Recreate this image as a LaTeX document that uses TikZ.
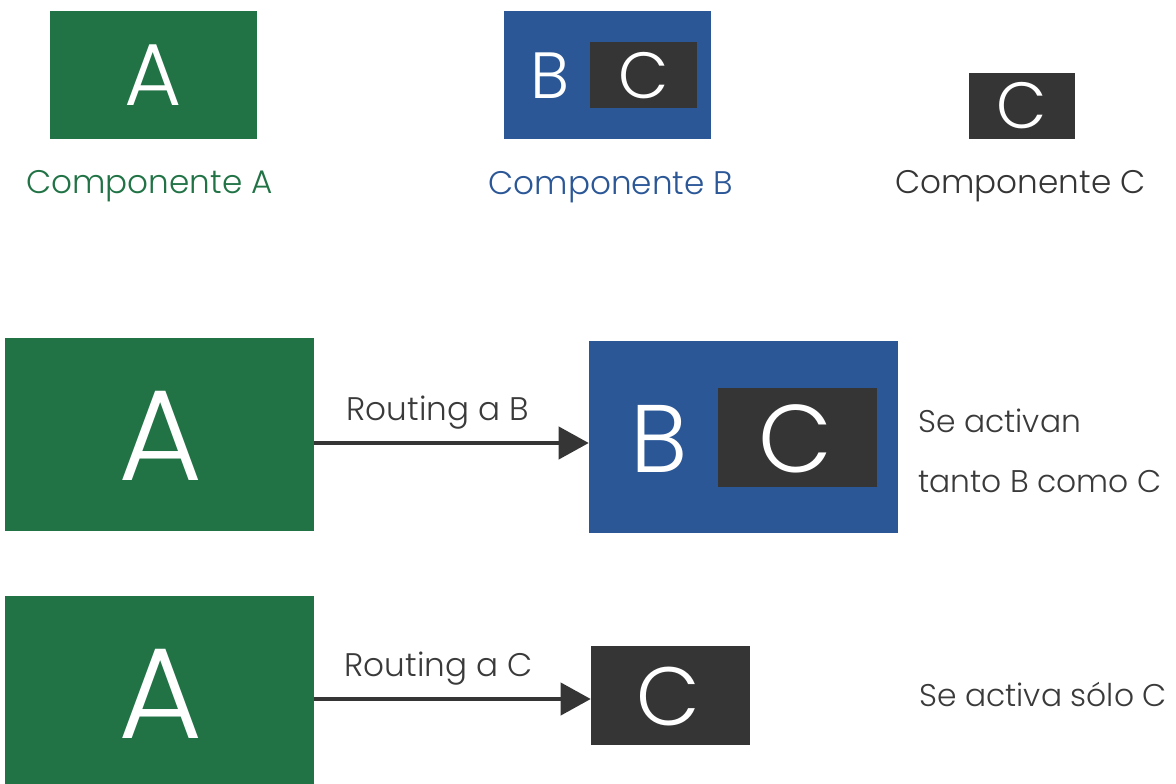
\documentclass[tikz,border=0pt]{standalone}
\usepackage{fontspec}
\IfFontExistsTF{Poppins Light}{\setmainfont{Poppins Light}}{\setmainfont{Poppins}}
\usetikzlibrary{arrows.meta}
\definecolor{cgreen}{HTML}{217346}
\definecolor{cblue}{HTML}{2B5797}
\definecolor{cdark}{HTML}{353535}
\definecolor{ctext}{HTML}{3A3A3A}
\tikzset{
  box/.style={rectangle, inner sep=0pt, draw=none},
  gbox/.style={box, fill=cgreen},
  bbox/.style={box, fill=cblue},
  dbox/.style={box, fill=cdark},
  letter/.style={anchor=base, inner sep=0pt, text=white},
  caption/.style={anchor=base, inner sep=0pt},
  note/.style={anchor=base west, inner sep=0pt, text=ctext, font=\fontsize{23.5}{28}\selectfont},
  arr/.style={draw=cdark, line width=3pt, -{Triangle[length=22.5pt,width=24pt]}},
}
\begin{document}
\begin{tikzpicture}[x=0.75pt, y=-0.75pt]
\useasboundingbox (0,0) rectangle (1176,784);

% legend row
\node[gbox, minimum width=155.25pt, minimum height=96pt] (ta) at (153.5,75) {};
\node[letter, font=\fontsize{66}{70}\selectfont] (tal) at (153.5,106) {A};
\node[caption, text=cgreen, font=\fontsize{24.5}{29}\selectfont] (tac) at (149.5,194) {Componente A};

\node[bbox, minimum width=155.25pt, minimum height=96pt] (tb) at (607.5,75) {};
\node[dbox, minimum width=80.25pt, minimum height=49.5pt] (tbc) at (643.5,75) {};
\node[letter, font=\fontsize{49}{54}\selectfont] (tbl) at (550,99) {B};
\node[letter, font=\fontsize{49}{54}\selectfont] (tbcl) at (643.5,99) {C};
\node[caption, text=cblue, font=\fontsize{24.5}{29}\selectfont] (tbcap) at (611,195) {Componente B};

\node[dbox, minimum width=79.5pt, minimum height=49.5pt] (tc) at (1022,106) {};
\node[letter, font=\fontsize{49}{54}\selectfont] (tcl) at (1022,129) {C};
\node[caption, text=cdark, font=\fontsize{24.5}{29}\selectfont] (tccap) at (1020.5,194) {Componente C};

% routing to B
\node[gbox, minimum width=231.75pt, minimum height=144.75pt] (ma) at (159.5,434.5) {};
\node[letter, font=\fontsize{97}{100}\selectfont] (mal) at (160.5,480) {A};
\node[bbox, minimum width=231.75pt, minimum height=144pt] (mb) at (743.5,437) {};
\node[dbox, minimum width=119.25pt, minimum height=74.25pt] (mbc) at (797.5,437.5) {};
\node[letter, font=\fontsize{72}{76}\selectfont] (mbl) at (659,472) {B};
\node[letter, font=\fontsize{72}{76}\selectfont] (mbcl) at (795,472) {C};
\draw[arr] ([yshift=-6.375pt]ma.east) -- ([yshift=-4.5pt]mb.west)
  node[caption, pos=0.45, above=17pt, anchor=base, text=ctext, font=\fontsize{24.5}{29}\selectfont] {Routing a B};
\node[note] (n1) at (918,432) {Se activan};
\node[note] (n2) at (918,492) {tanto B como C};

% routing to C
\node[gbox, minimum width=231.75pt, minimum height=141pt] (ba) at (159.5,690) {};
\node[letter, font=\fontsize{97}{100}\selectfont] (bal) at (160.5,738) {A};
\node[dbox, minimum width=119.25pt, minimum height=74.25pt] (bc) at (670.5,695.5) {};
\node[letter, font=\fontsize{62}{66}\selectfont] (bcl) at (668,725) {C};
\draw[arr] ([yshift=-6.75pt]ba.east) -- ([yshift=-2.625pt]bc.west)
  node[caption, pos=0.45, above=17pt, anchor=base, text=ctext, font=\fontsize{24.5}{29}\selectfont] {Routing a C};
\node[note] (n3) at (919,706) {Se activa sólo C};
\end{tikzpicture}
\end{document}
